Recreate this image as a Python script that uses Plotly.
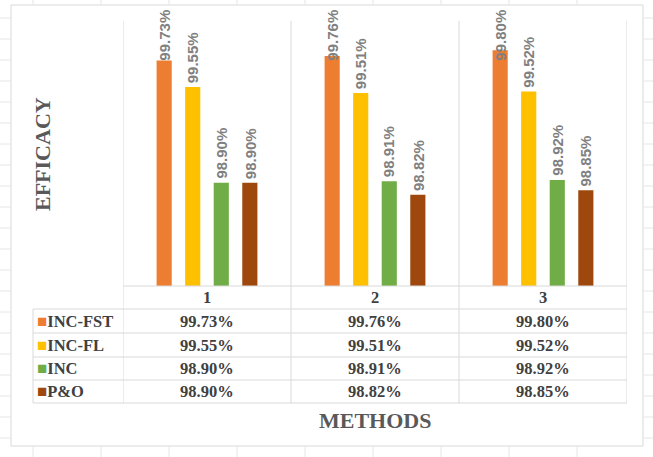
import plotly.graph_objects as go

# ---------------- data ----------------
categories = ["1", "2", "3"]
series_names = ["INC-FST", "INC-FL", "INC", "P&O"]
inc_fst = [99.73, 99.76, 99.80]
inc_fl = [99.55, 99.51, 99.52]
inc = [98.90, 98.91, 98.92]
p_and_o = [98.90, 98.82, 98.85]
series_values = [inc_fst, inc_fl, inc, p_and_o]
colors = ["#ED7D31", "#FFC000", "#70AD47", "#9E480E"]
y_title = "EFFICACY"
x_title = "METHODS"

# ---------------- layout geometry (pixels) ----------------
W, H = 653, 457
L, R, T, B = 123, 627, 6, 286
Y_MIN, Y_MAX = 98.2, 100.1
BARGAP, GROUPGAP = 0.32, 0.47
LABEL_LEN = 52      # approx. pixel length of a rotated value label
LABEL_GAP = 4       # gap between bar top and label
LABEL_TOP = 10      # labels are kept below this pixel row (like Excel)


def fx(px):
    return (px - L) / (R - L)


def fy(py):
    return (B - py) / (B - T)


def val_px(v):
    return B - (v - Y_MIN) * (B - T) / (Y_MAX - Y_MIN)


GRID = "#d9d9d9"
TXT = "#404040"
SERIF = "Liberation Serif"

fig = go.Figure()
for name, vals, col in zip(series_names, series_values, colors):
    fig.add_trace(go.Bar(
        x=categories, y=vals, name=name, marker=dict(color=col, line=dict(width=0)),
        showlegend=False, hovertemplate="%{y:.2f}%<extra>" + name + "</extra>",
    ))

shapes = []
# outer chart border
shapes.append(dict(type="rect", xref="paper", yref="paper", x0=fx(11), x1=fx(643),
                   y0=fy(446), y1=fy(5), line=dict(color=GRID, width=1)))
# faint spreadsheet grid outside the chart
SHEET = "#e6e6e6"
for xp in [33, 101, 169, 237, 305, 373, 441, 509, 577]:
    shapes.append(dict(type="line", xref="paper", yref="paper", x0=fx(xp), x1=fx(xp),
                       y0=fy(0), y1=fy(5), line=dict(color=SHEET, width=1)))
    shapes.append(dict(type="line", xref="paper", yref="paper", x0=fx(xp), x1=fx(xp),
                       y0=fy(446), y1=fy(457), line=dict(color=SHEET, width=1)))
for yp in range(18, 446, 21):
    shapes.append(dict(type="line", xref="paper", yref="paper", x0=fx(0), x1=fx(11),
                       y0=fy(yp), y1=fy(yp), line=dict(color=SHEET, width=1)))
    shapes.append(dict(type="line", xref="paper", yref="paper", x0=fx(643), x1=fx(653),
                       y0=fy(yp), y1=fy(yp), line=dict(color=SHEET, width=1)))

# vertical category dividers (plot + table)
top_paper = (100.0 - Y_MIN) / (Y_MAX - Y_MIN)
for b in [-0.5, 0.5, 1.5, 2.5]:
    shapes.append(dict(type="line", xref="x", yref="paper", x0=b, x1=b,
                       y0=top_paper, y1=fy(403), line=dict(color=GRID, width=1)))
# baseline / table top
shapes.append(dict(type="line", xref="x", yref="paper", x0=-0.5, x1=2.5,
                   y0=fy(286), y1=fy(286), line=dict(color=GRID, width=1)))
# table row lines
for yp in [309, 333, 357, 380, 403]:
    shapes.append(dict(type="line", xref="paper", yref="paper", x0=fx(33), x1=fx(627),
                       y0=fy(yp), y1=fy(yp), line=dict(color=GRID, width=1)))
shapes.append(dict(type="line", xref="paper", yref="paper", x0=fx(33), x1=fx(33),
                   y0=fy(309), y1=fy(403), line=dict(color=GRID, width=1)))

annotations = []
# rotated value labels above bars (offset per series within the group)
cat_px = (R - L) / len(categories)
slot_px = cat_px * (1 - BARGAP) / len(series_names)
lfont = dict(family="Liberation Sans", size=15, color="#808080", weight="bold")
for j, vals in enumerate(series_values):
    shift = (j - (len(series_names) - 1) / 2) * slot_px
    for i, v in enumerate(vals):
        ann = dict(x=i, xref="x", text="%.2f%%" % v, textangle=-90, xshift=shift,
                   showarrow=False, xanchor="center", font=lfont)
        if val_px(v) - LABEL_GAP - LABEL_LEN < LABEL_TOP:
            ann.update(y=fy(LABEL_TOP - 2), yref="paper", yanchor="top")
        else:
            ann.update(y=v, yref="y", yanchor="bottom", yshift=LABEL_GAP - 2)
        annotations.append(ann)

tfont = dict(family=SERIF, size=16.5, color=TXT)
# header row
for i, c in enumerate(categories):
    annotations.append(dict(x=i, xref="x", y=fy(297.5), yref="paper", text="<b>%s</b>" % c,
                            showarrow=False, font=tfont, xanchor="center", yanchor="middle"))
row_centers = [321, 345, 368.5, 391.5]
for name, vals, col, yc in zip(series_names, series_values, colors, row_centers):
    annotations.append(dict(
        x=fx(35), xref="paper", y=fy(yc), yref="paper",
        text='<span style="color:%s;font-size:17px">■</span><b>%s</b>' % (col, name.replace("&", "&amp;")),
        showarrow=False, font=tfont, xanchor="left", yanchor="middle"))
    for i, v in enumerate(vals):
        annotations.append(dict(x=i, xref="x", y=fy(yc), yref="paper",
                                text="<b>%.2f%%</b>" % v, showarrow=False, font=tfont,
                                xanchor="center", yanchor="middle"))
# axis titles
annotations.append(dict(x=fx(42), xref="paper", y=fy(154), yref="paper", text="<b>%s</b>" % y_title,
                        textangle=-90, showarrow=False,
                        font=dict(family=SERIF, size=22, color="#595959"),
                        xanchor="center", yanchor="middle"))
annotations.append(dict(x=fx(375), xref="paper", y=fy(420), yref="paper", text="<b>%s</b>" % x_title,
                        showarrow=False, font=dict(family=SERIF, size=22, color="#595959"),
                        xanchor="center", yanchor="middle"))

fig.update_layout(
    width=W, height=H,
    margin=dict(l=L, r=W - R, t=T, b=H - B, autoexpand=False),
    paper_bgcolor="white", plot_bgcolor="white",
    barmode="group", bargap=BARGAP, bargroupgap=GROUPGAP,
    xaxis=dict(type="category", range=[-0.5, 2.5], showticklabels=False, showgrid=False,
               zeroline=False, showline=False, ticks=""),
    yaxis=dict(range=[Y_MIN, Y_MAX], visible=False, showgrid=False, zeroline=False),
    shapes=shapes, annotations=annotations,
)

fig.write_html("out.html", config={"displayModeBar": False},
               post_script="document.body.style.margin='0';")
